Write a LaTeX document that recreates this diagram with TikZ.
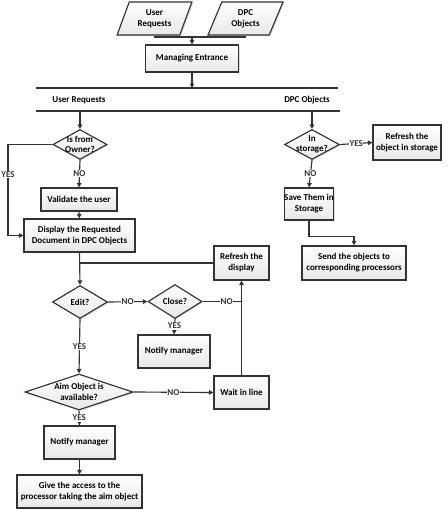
\documentclass[tikz,border=0pt]{standalone}
\usepackage{fontspec}
\setmainfont{Carlito}
\usetikzlibrary{shapes.geometric,arrows.meta,shadows}
\definecolor{ln}{HTML}{333333}
\tikzset{
  every label/.style={font=\bfseries\fontsize{9}{10.5}\selectfont, align=center, inner sep=0pt},
  base/.style={draw=ln, line width=1.15pt, font=\bfseries\fontsize{9}{11}\selectfont, align=center, inner sep=0pt,
    top color=white, bottom color=gray!18, drop shadow={shadow xshift=1.2pt, shadow yshift=-1.2pt, fill=gray!45, opacity=0.6}},
  procbox/.style={base, rectangle},
  dia/.style={base, diamond},
  io/.style={base, trapezium, trapezium left angle=66, trapezium right angle=114, trapezium stretches=true},
  conn/.style={draw=ln, line width=1.15pt},
  arr/.style={conn, -{Triangle[length=4.5pt,width=4.5pt]}},
  lab/.style={fill=white, inner sep=0.6pt, font=\bfseries\fontsize{9}{10}\selectfont, text=ln},
  bus/.style={draw=ln, line width=1.2pt}
}
\begin{document}
\begin{tikzpicture}[x=1pt,y=-1pt]
\useasboundingbox (0,0) rectangle (447,511);
% inputs
\node[io, minimum width=75, minimum height=33] (ur) at (154.5,18.5) {User\\Requests};
\node[io, minimum width=75, minimum height=33] (dpc) at (245.5,18.5) {DPC\\Objects};
\node[procbox, minimum width=93, minimum height=27] (me) at (192,58.5) {Managing Entrance};
\coordinate (jn) at (192,37);
\draw[conn] (ur.south) |- (jn) -| (dpc.south);
\draw[arr] (jn) -- (me.north);
% buses
\coordinate (b1l) at (36,88);
\coordinate (b1r) at (338,88);
\coordinate (b2l) at (36,111);
\coordinate (b2r) at (340,111);
\draw[bus] (b1l) -- (b1r);
\draw[bus] (b2l) -- (b2r);
\draw[arr] (me.south) -- (me.south |- b1l);
\node[font=\bfseries\fontsize{9}{11}\selectfont, inner sep=0pt] (tur) at (79,100) {User Requests};
\node[font=\bfseries\fontsize{9}{11}\selectfont, inner sep=0pt] (tdpc) at (307,100) {DPC Objects};
% left column
\node[dia, minimum width=54, minimum height=30, label={center:Is from\\Owner?}] (own) at (80,144.5) {};
\coordinate (a1) at (80,111);
\draw[arr] (a1) -- (own.north);
\node[procbox, minimum width=76, minimum height=23] (val) at (79,199.5) {Validate the user};
\node[procbox, minimum width=111, minimum height=33] (disp) at (79.5,235.5) {Display the Requested\\Document in DPC Objects};
\draw[arr] (own.south) -- node[lab]{NO} (val.north);
\draw[arr] (val.south) -- (disp.north);
\coordinate (yl) at (8,144.5);
\draw[conn] (own.west) -- (yl) -- node[lab, pos=0.33]{YES} (yl |- disp.west);
\draw[arr] (yl |- disp.west) -- (disp.west);
% right column
\node[dia, minimum width=55, minimum height=30, label={center:In\\storage?}] (sto) at (312,144.5) {};
\coordinate (a2) at (312,111);
\draw[arr] (a2) -- (sto.north);
\node[procbox, minimum width=68, minimum height=35] (rfo) at (407,142.5) {Refresh the\\object in storage};
\draw[arr] (sto.east) -- node[lab]{YES} (rfo.west);
\node[procbox, minimum width=48, minimum height=32] (save) at (309,204) {Save Them in\\Storage};
\draw[arr] (sto.south) -- node[lab]{NO} (save.north);
\node[procbox, minimum width=104, minimum height=34] (send) at (354,263) {Send the objects to\\corresponding processors};
\draw[arr] (save.south) -- ++(0,16) -| (send.north);
% edit loop
\node[procbox, minimum width=55, minimum height=34] (rfd) at (241.5,263) {Refresh the\\display};
\node[dia, minimum width=55, minimum height=33, label={center:Edit?}] (edit) at (80,302) {};
\node[dia, minimum width=54, minimum height=34, label={center:Close?}] (close) at (175,301.5) {};
\draw[arr] (disp.south) -- (edit.north);
\draw[conn] (rfd.west) -- (rfd.west -| disp.south);
\draw[arr] (edit.east) -- node[lab]{NO} (close.west);
\node[procbox, minimum width=72, minimum height=33] (nm1) at (174,351.5) {Notify manager};
\draw[arr] (close.south) -- node[lab, pos=0.45]{YES} (nm1.north);
\node[procbox, minimum width=55, minimum height=33] (wait) at (241.5,392.5) {Wait in line};
\draw[conn] (close.east) -- node[lab, pos=0.62]{NO} (close.east -| wait.north);
\draw[arr] (wait.north) -- (rfd.south);
\node[dia, minimum width=108, minimum height=36, label={center:Aim Object is\\available?}] (aim) at (79,392) {};
\draw[arr] (edit.south) -- node[lab]{YES} (aim.north);
\draw[arr] (aim.east) -- node[lab]{NO} (wait.west);
\node[procbox, minimum width=71, minimum height=33] (nm2) at (79.5,442.5) {Notify manager};
\draw[arr] (aim.south) -- node[lab]{YES} (nm2.north);
\node[procbox, minimum width=125, minimum height=33] (give) at (79.5,491.5) {Give the access to the\\processor taking the aim object};
\draw[arr] (nm2.south) -- (give.north);
\end{tikzpicture}
\end{document}
